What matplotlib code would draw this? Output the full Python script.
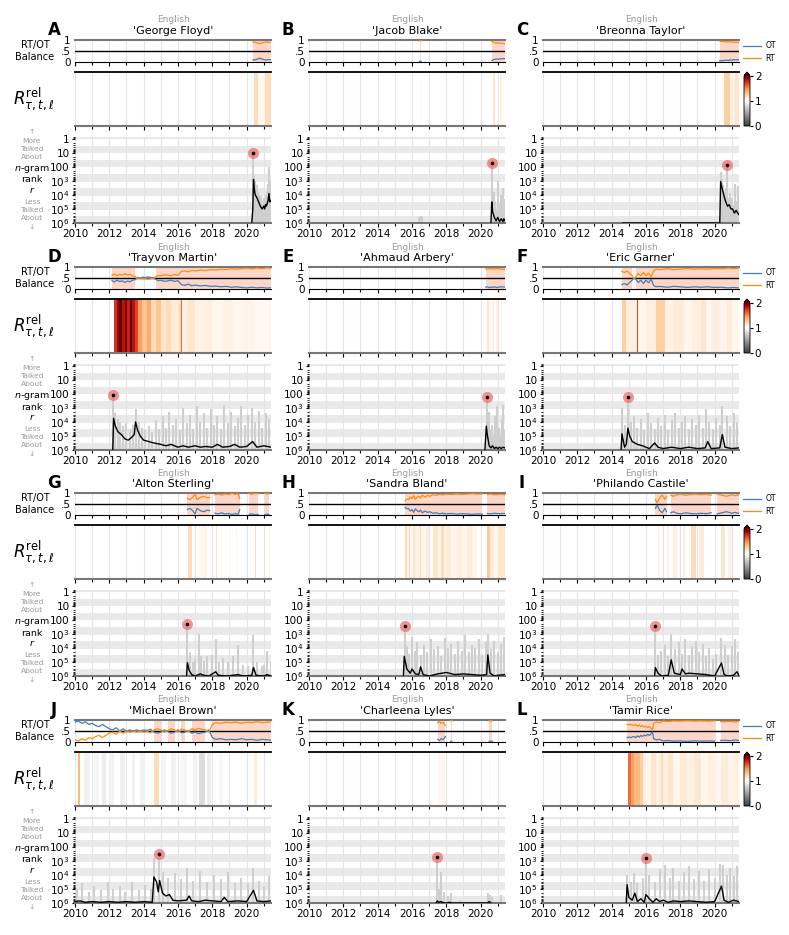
import numpy as np
import matplotlib
matplotlib.use('Agg')
import matplotlib.pyplot as plt
from matplotlib.colors import LinearSegmentedColormap, Normalize
from matplotlib.cm import ScalarMappable
from matplotlib.ticker import LogLocator, NullFormatter, MultipleLocator

nan = np.nan

# ---- data (times in years, ranks as log10) ----
letters = list('ABCDEFGHIJKL')
names = ["'George Floyd'", "'Jacob Blake'", "'Breonna Taylor'",
         "'Trayvon Martin'", "'Ahmaud Arbery'", "'Eric Garner'",
         "'Alton Sterling'", "'Sandra Bland'", "'Philando Castile'",
         "'Michael Brown'", "'Charleena Lyles'", "'Tamir Rice'"]
year_ticks = [2010, 2012, 2014, 2016, 2018, 2020]
rank_ticks = [1, 10, 100, 1e3, 1e4, 1e5, 1e6]
rank_labels = ['1', '10', '100', '$10^3$', '$10^4$', '$10^5$', '$10^6$']

# A George Floyd
floyd_bt = [2020.37, 2020.45, 2020.55, 2020.65, 2020.75, 2020.85, 2020.95, 2021.05, 2021.15, 2021.25, 2021.35, 2021.42]
floyd_rt = [0.90, 0.91, 0.89, 0.86, 0.83, 0.85, 0.88, 0.90, 0.91, 0.89, 0.90, 0.90]
floyd_he = [2020.42, 2020.68, 2021.05, 2021.42]
floyd_hv = [1.2, 1.05, 1.2]
floyd_t = [2020.30, 2020.36, 2020.40, 2020.45, 2020.50, 2020.60, 2020.70, 2020.80, 2020.90, 2021.00, 2021.05, 2021.10, 2021.15, 2021.20, 2021.25, 2021.30, 2021.35, 2021.42]
floyd_r = [6.0, 5.0, 2.9, 3.6, 4.0, 4.2, 4.5, 4.8, 5.0, 4.8, 5.0, 4.7, 4.8, 4.6, 4.4, 3.9, 4.5, 4.4]
floyd_gt = [2020.37, 2020.42, 2020.47, 2020.52, 2020.58, 2020.64, 2020.7, 2020.76, 2020.82, 2020.88, 2020.94, 2021.0, 2021.06, 2021.12, 2021.18, 2021.24, 2021.3, 2021.36, 2021.41]
floyd_gr = [1.0, 2.6, 3.0, 3.5, 3.3, 3.8, 4.0, 4.3, 4.1, 4.6, 4.4, 4.2, 4.5, 4.0, 3.7, 3.2, 2.0, 3.4, 3.0]
floyd_peak = (2020.37, 1.0)

# B Jacob Blake
blake_bt = [2016.45, 2016.55, 2018.0, 2020.65, 2020.75, 2020.85, 2020.95, 2021.05, 2021.15, 2021.25, 2021.35, 2021.42]
blake_rt = [0.97, 0.97, nan, 0.93, 0.90, 0.87, 0.86, 0.88, 0.85, 0.86, 0.84, 0.85]
blake_he = [2016.45, 2016.55, 2020.72, 2020.82, 2021.15, 2021.22, 2021.32, 2021.38]
blake_hv = [1.05, nan, 1.15, nan, 1.08, nan, 1.06]
blake_t = [2020.6, 2020.65, 2020.7, 2020.8, 2020.9, 2021.0, 2021.1, 2021.2, 2021.3, 2021.35, 2021.42]
blake_r = [6.0, 4.5, 5.2, 5.6, 5.85, 5.6, 5.9, 5.7, 5.9, 5.7, 5.85]
blake_gt = [2016.42, 2016.5, 2016.58, 2020.67, 2020.75, 2020.83, 2020.92, 2021.0, 2021.08, 2021.16, 2021.24, 2021.32, 2021.4]
blake_gr = [5.6, 5.5, 5.6, 1.7, 3.8, 4.4, 5.0, 3.0, 4.6, 4.0, 4.8, 3.5, 4.3]
blake_peak = (2020.67, 1.7)

# C Breonna Taylor
taylor_bt = [2020.3, 2020.4, 2020.5, 2020.6, 2020.7, 2020.8, 2020.9, 2021.0, 2021.1, 2021.2, 2021.3, 2021.42]
taylor_rt = [0.95, 0.93, 0.94, 0.92, 0.91, 0.93, 0.9, 0.92, 0.88, 0.91, 0.89, 0.9]
taylor_he = [2020.53, 2020.92, 2021.2, 2021.42]
taylor_hv = [1.25, 1.08, 1.15]
taylor_t = [2014.65, 2020.3, 2020.35, 2020.45, 2020.55, 2020.65, 2020.75, 2020.85, 2020.95, 2021.05, 2021.15, 2021.25, 2021.35, 2021.42]
taylor_r = [6.0, 6.0, 3.05, 3.6, 4.1, 4.5, 4.8, 4.7, 5.0, 5.0, 5.3, 5.1, 5.3, 5.4]
taylor_gt = [2020.36, 2020.42, 2020.5, 2020.58, 2020.66, 2020.73, 2020.8, 2020.88, 2020.96, 2021.04, 2021.12, 2021.2, 2021.28, 2021.36, 2021.41]
taylor_gr = [2.4, 2.9, 3.3, 3.8, 3.5, 1.9, 4.2, 3.9, 4.5, 4.2, 4.7, 3.2, 4.4, 3.4, 4.6]
taylor_peak = (2020.73, 1.9)

# D Trayvon Martin
martin_bt = [2012.15, 2012.3, 2012.45, 2012.6, 2012.75, 2012.9, 2013.05, 2013.2, 2013.35, 2013.5,
             2013.65, 2013.8, 2013.95, 2014.1, 2014.25, 2014.4, 2014.55, 2014.7, 2014.85, 2015.0,
             2015.2, 2015.4, 2015.6, 2015.8, 2016.0, 2016.2, 2016.4, 2016.6, 2016.8, 2017.0,
             2017.3, 2017.6, 2017.9, 2018.2, 2018.5, 2018.8, 2019.1, 2019.4, 2019.7, 2020.0,
             2020.3, 2020.6, 2020.9, 2021.2, 2021.42]
martin_rt = [0.62, 0.68, 0.6, 0.66, 0.63, 0.7, 0.64, 0.67, 0.6, 0.58,
             0.47, 0.5, 0.46, 0.48, 0.45, 0.47, 0.49, 0.56, 0.62, 0.6,
             0.65, 0.63, 0.6, 0.66, 0.62, 0.8, 0.83, 0.78, 0.85, 0.82,
             0.86, 0.84, 0.88, 0.87, 0.9, 0.88, 0.92, 0.9, 0.93, 0.95,
             0.92, 0.95, 0.93, 0.96, 0.94]
martin_he = [2012.27, 2012.45, 2012.56, 2012.75, 2012.9, 2013.05, 2013.2, 2013.34, 2013.5, 2013.69,
             2013.9, 2014.2, 2014.45, 2014.7, 2015.0, 2015.3, 2015.6, 2016.06, 2016.15, 2016.25,
             2016.6, 2017.0, 2017.5, 2018.0, 2018.6, 2019.2, 2019.8, 2020.4, 2021.0, 2021.42]
martin_hv = [1.75, 1.9, 2.0, 1.85, 1.95, 1.8, 2.0, 1.85, 1.7,
             1.45, 1.3, 1.4, 1.2, 1.3, 1.15, 1.2, 1.12, 1.18, 1.6,
             1.1, 1.15, 1.08, 1.1, 1.06, 1.08, 1.05, 1.07, 1.04, 1.05]
martin_t = [2012.2, 2012.25, 2012.35, 2012.5, 2012.7, 2012.9, 2013.1, 2013.3, 2013.45, 2013.53,
            2013.65, 2013.8, 2014.0, 2014.3, 2014.6, 2015.0, 2015.3, 2015.6, 2016.0, 2016.3,
            2016.6, 2017.0, 2017.3, 2017.6, 2018.0, 2018.3, 2018.6, 2019.0, 2019.3, 2019.6,
            2020.0, 2020.35, 2020.6, 2021.0, 2021.42]
martin_r = [6.0, 3.75, 4.3, 4.7, 4.9, 5.2, 5.3, 5.1, 4.9, 4.0,
            4.6, 5.0, 5.3, 5.4, 5.5, 5.6, 5.7, 5.6, 5.8, 5.7,
            5.8, 5.7, 5.8, 5.75, 5.8, 5.6, 5.8, 5.75, 5.6, 5.8,
            5.75, 5.4, 5.8, 5.7, 5.8]
martin_gt = [2012.23, 2012.35, 2012.5, 2012.65, 2012.8, 2013.0, 2013.2, 2013.4, 2013.53, 2013.7,
             2013.9, 2014.1, 2014.3, 2014.5, 2014.7, 2014.9, 2015.1, 2015.3, 2015.5, 2015.7,
             2015.9, 2016.1, 2016.3, 2016.5, 2016.7, 2016.9, 2017.1, 2017.3, 2017.5, 2017.7,
             2017.9, 2018.1, 2018.3, 2018.5, 2018.7, 2018.9, 2019.1, 2019.3, 2019.5, 2019.7,
             2019.9, 2020.1, 2020.3, 2020.5, 2020.7, 2020.9, 2021.1, 2021.3]
martin_gr = [2.1, 3.4, 3.8, 4.0, 4.3, 4.1, 4.5, 4.2, 3.1, 4.0,
             4.4, 4.6, 4.3, 4.7, 3.9, 4.5, 3.6, 4.4, 3.3, 4.2,
             3.8, 4.6, 3.0, 4.1, 3.5, 4.5, 2.9, 4.0, 3.4, 4.4,
             3.1, 4.2, 3.6, 4.5, 2.8, 4.1, 3.3, 4.3, 3.7, 2.9,
             4.2, 3.5, 3.0, 4.0, 3.2, 4.4, 3.4, 3.8]
martin_peak = (2012.23, 2.1)

# E Ahmaud Arbery
arbery_bt = [2020.3, 2020.4, 2020.5, 2020.6, 2020.7, 2020.8, 2020.9, 2021.0, 2021.1, 2021.2, 2021.3, 2021.42]
arbery_rt = [0.92, 0.9, 0.94, 0.91, 0.93, 0.9, 0.92, 0.94, 0.9, 0.91, 0.9, 0.92]
arbery_he = [2020.35, 2020.48, 2020.7, 2020.78, 2020.92, 2021.0, 2021.18, 2021.24]
arbery_hv = [1.15, 1.04, 1.12, nan, 1.08, nan, 1.1]
arbery_t = [2020.25, 2020.33, 2020.4, 2020.5, 2020.6, 2020.7, 2020.8, 2020.9, 2021.0, 2021.1, 2021.2, 2021.3, 2021.42]
arbery_r = [6.0, 4.3, 5.0, 5.7, 5.85, 5.7, 5.9, 5.8, 5.9, 5.8, 5.9, 5.8, 5.85]
arbery_gt = [2020.35, 2020.42, 2020.5, 2020.58, 2020.66, 2020.74, 2020.82, 2020.9, 2020.98, 2021.06, 2021.14, 2021.22, 2021.3, 2021.38]
arbery_gr = [2.2, 3.4, 3.3, 4.6, 4.2, 5.0, 3.6, 4.8, 2.9, 4.4, 4.9, 3.8, 2.8, 4.5]
arbery_peak = (2020.35, 2.2)

# F Eric Garner
garner_bt = [2014.6, 2014.75, 2014.9, 2015.05, 2015.2, 2015.3, 2015.4, 2015.55, 2015.7, 2015.85,
             2016.0, 2016.15, 2016.3, 2016.45, 2016.6, 2016.8, 2017.0, 2017.3, 2017.6, 2018.0,
             2018.4, 2018.8, 2019.2, 2019.6, 2020.0, 2020.4, 2020.8, 2021.1, 2021.42]
garner_rt = [0.8, 0.75, 0.82, 0.7, 0.6, 0.48, 0.55, 0.7, 0.6, 0.75,
             0.6, 0.72, 0.55, 0.85, 0.9, 0.88, 0.9, 0.92, 0.88, 0.9,
             0.93, 0.9, 0.92, 0.9, 0.93, 0.92, 0.95, 0.93, 0.95]
garner_he = [2014.6, 2014.85, 2015.5, 2015.56, 2015.62, 2016.0, 2016.6, 2017.1, 2017.6, 2018.2,
             2018.7, 2019.2, 2019.5, 2019.8, 2020.3, 2020.7, 2021.0, 2021.42]
garner_hv = [1.25, 1.1, 1.7, 1.1, 1.06, 1.1, 1.25, 1.08, 1.12, 1.06, 1.1, 1.15, 1.05, 1.1, 1.07, 1.12, 1.06]
garner_t = [2014.55, 2014.6, 2014.75, 2014.85, 2014.95, 2015.05, 2015.2, 2015.5, 2015.8, 2016.2,
            2016.5, 2016.7, 2017.0, 2017.5, 2018.0, 2018.5, 2019.0, 2019.45, 2019.6, 2019.8,
            2020.3, 2020.45, 2020.6, 2021.0, 2021.42]
garner_r = [6.0, 4.85, 5.8, 5.6, 4.45, 5.0, 5.4, 5.6, 5.7, 5.9,
            5.5, 5.8, 5.9, 5.8, 5.9, 5.8, 5.9, 5.85, 5.4, 5.9,
            5.85, 4.9, 5.8, 5.9, 5.85]
garner_gt = [2014.6, 2014.8, 2014.94, 2015.1, 2015.3, 2015.5, 2015.7, 2015.9, 2016.1, 2016.3,
             2016.5, 2016.7, 2016.9, 2017.1, 2017.3, 2017.5, 2017.7, 2017.9, 2018.1, 2018.3,
             2018.5, 2018.7, 2018.9, 2019.1, 2019.3, 2019.5, 2019.7, 2019.9, 2020.1, 2020.3,
             2020.45, 2020.7, 2020.9, 2021.1, 2021.3]
garner_gr = [3.0, 4.2, 2.2, 4.0, 3.6, 4.4, 3.8, 4.6, 3.4, 4.1,
             4.5, 3.7, 4.3, 3.5, 4.6, 3.9, 3.4, 4.4, 4.0, 3.6,
             4.5, 3.8, 4.2, 3.5, 4.4, 3.1, 4.0, 4.5, 3.7, 4.2,
             2.9, 3.6, 4.3, 3.4, 4.0]
garner_peak = (2014.94, 2.2)

# G Alton Sterling
sterling_bt = [2016.55, 2016.7, 2016.85, 2017.0, 2017.1, 2017.3, 2017.5, 2017.7, 2017.85, 2017.95,
               2018.15, 2018.35, 2018.55, 2018.75, 2018.95, 2019.15, 2019.35, 2019.5, 2019.6, 2020.0,
               2020.15, 2020.25, 2020.37, 2020.5, 2020.67, 2020.8, 2021.05, 2021.2, 2021.3, 2021.42]
sterling_rt = [0.75, 0.7, 0.8, 0.95, 0.7, 0.8, 0.85, 0.78, 0.8, nan,
               0.92, 0.95, 0.9, 0.96, 0.93, 0.98, 0.94, 0.97, 0.75, nan,
               0.97, 0.95, 0.96, 0.98, 0.97, nan, 0.98, 0.96, 0.97, nan]
sterling_he = [2016.6, 2016.8, 2017.2, 2017.5, 2017.7, 2018.22, 2018.3, 2018.5, 2018.56, 2019.0,
               2019.06, 2019.4, 2019.46, 2020.47, 2020.53, 2021.28, 2021.34]
sterling_hv = [1.2, nan, 1.05, 1.08, nan, 1.15, nan, 1.05, nan, 1.05, nan, 1.05, nan, 1.2, nan, 1.1]
sterling_t = [2016.5, 2016.55, 2016.65, 2016.8, 2017.0, 2017.3, 2017.5, 2017.8, 2018.2, 2018.35,
              2018.8, 2019.2, 2019.5, 2019.8, 2020.3, 2020.4, 2020.55, 2021.0, 2021.2, 2021.42]
sterling_r = [6.0, 5.05, 5.6, 5.9, 6.0, 5.85, 5.95, 6.0, 5.7, 5.95,
              6.0, 5.95, 5.9, 6.0, 5.95, 5.4, 5.95, 6.0, 5.9, 6.0]
sterling_gt = [2016.52, 2016.7, 2016.85, 2017.0, 2017.2, 2017.35, 2017.5, 2017.7, 2018.0, 2018.2,
               2018.4, 2018.6, 2018.9, 2019.2, 2019.5, 2019.8, 2020.1, 2020.4, 2020.6, 2020.9,
               2021.0, 2021.2, 2021.4]
sterling_gr = [2.3, 4.3, 5.0, 4.8, 3.0, 4.6, 4.9, 4.6, 4.5, 3.4,
               5.0, 4.7, 5.0, 4.6, 3.8, 5.2, 5.3, 3.1, 5.0, 5.3,
               5.2, 4.2, 5.0]
sterling_peak = (2016.5, 2.33)

# H Sandra Bland
bland_bt = [2015.6, 2015.7, 2015.8, 2015.9, 2016.0, 2016.1, 2016.2, 2016.3, 2016.4, 2016.5,
            2016.6, 2016.75, 2016.9, 2017.05, 2017.2, 2017.4, 2017.6, 2017.8, 2018.0, 2018.3,
            2018.6, 2018.9, 2019.2, 2019.5, 2019.8, 2020.1, 2020.3, 2020.4, 2020.55, 2020.8,
            2021.1, 2021.42]
bland_rt = [0.65, 0.72, 0.7, 0.82, 0.75, 0.88, 0.72, 0.8, 0.85, 0.78,
            0.9, 0.82, 0.88, 0.85, 0.92, 0.9, 0.94, 0.92, 0.95, 0.93,
            0.96, 0.94, 0.95, 0.97, 0.95, 0.96, nan, 0.93, 0.95, 0.92,
            0.94, 0.93]
bland_he = [2015.6, 2015.7, 2015.8, 2015.9, 2016.05, 2016.2, 2016.45, 2016.55, 2016.8, 2017.0,
            2017.2, 2017.5, 2017.7, 2017.85, 2018.0, 2018.3, 2018.6, 2018.9, 2019.2, 2019.5,
            2019.8, 2020.4, 2020.55, 2020.75, 2021.0, 2021.42]
bland_hv = [1.2, 1.08, 1.18, 1.05, 1.15, 1.08, 1.22, 1.05, 1.12, nan,
            1.15, 1.06, 1.18, 1.08, 1.12, 1.05, 1.1, 1.06, 1.12, 1.05,
            nan, 1.28, 1.12, 1.06, 1.15]
bland_t = [2015.5, 2015.55, 2015.7, 2015.9, 2016.0, 2016.2, 2016.4, 2016.5, 2016.65, 2017.0,
           2017.5, 2018.0, 2018.5, 2019.0, 2019.5, 2020.0, 2020.35, 2020.42, 2020.55, 2020.8,
           2021.0, 2021.42]
bland_r = [6.0, 4.6, 5.5, 5.8, 5.5, 5.85, 5.9, 5.35, 5.9, 6.0,
           5.85, 5.75, 5.9, 5.85, 5.9, 5.95, 5.9, 4.5, 5.8, 6.0,
           5.95, 5.9]
bland_gt = [2015.57, 2015.7, 2015.85, 2016.0, 2016.15, 2016.3, 2016.5, 2016.7, 2016.9, 2017.1,
            2017.3, 2017.5, 2017.7, 2017.9, 2018.1, 2018.3, 2018.5, 2018.7, 2018.9, 2019.1,
            2019.3, 2019.5, 2019.7, 2019.9, 2020.1, 2020.3, 2020.42, 2020.6, 2020.8, 2021.0,
            2021.2, 2021.35]
bland_gr = [2.46, 3.9, 4.4, 3.2, 4.2, 3.6, 4.5, 3.8, 4.3, 3.4,
            4.1, 3.9, 4.6, 3.3, 4.0, 3.7, 4.4, 3.5, 4.2, 3.1,
            4.3, 3.8, 4.0, 3.4, 4.5, 3.6, 3.0, 4.1, 3.5, 4.3,
            3.7, 3.2]
bland_peak = (2015.57, 2.46)

# I Philando Castile
castile_bt = [2016.55, 2016.65, 2016.8, 2016.95, 2017.1, 2017.2, 2017.3, 2017.45, 2017.6, 2017.8,
              2018.0, 2018.3, 2018.6, 2018.9, 2019.2, 2019.5, 2019.8, 2019.95, 2020.15, 2020.4,
              2020.7, 2021.0, 2021.2, 2021.42]
castile_rt = [0.7, 0.55, 0.8, 0.9, 0.7, 0.85, nan, 0.9, 0.85, 0.92,
              0.95, 0.9, 0.93, 0.95, 0.92, 0.94, 0.9, nan, 0.95, 0.9,
              0.85, 0.92, 0.88, 0.93]
castile_he = [2016.7, 2016.8, 2017.25, 2017.35, 2017.6, 2017.8, 2018.15, 2018.25, 2018.6, 2018.9,
              2019.1, 2019.4, 2020.4, 2020.6, 2020.8, 2021.0]
castile_hv = [1.05, nan, 1.1, nan, 1.1, nan, 1.1, nan, 1.2, nan, 1.12, nan, 1.15, nan, 1.08]
castile_t = [2016.5, 2016.55, 2016.7, 2016.9, 2017.3, 2017.47, 2017.65, 2018.0, 2018.1, 2018.3,
             2018.5, 2019.0, 2019.5, 2020.0, 2020.4, 2020.55, 2020.8, 2021.1, 2021.3, 2021.42]
castile_r = [6.0, 5.4, 5.8, 6.0, 5.95, 4.85, 5.8, 5.9, 5.5, 5.85,
             5.8, 5.85, 5.9, 6.0, 5.07, 5.9, 6.0, 5.95, 5.7, 5.95]
castile_gt = [2016.5, 2016.7, 2016.9, 2017.1, 2017.3, 2017.47, 2017.7, 2017.9, 2018.1, 2018.3,
              2018.5, 2018.7, 2018.9, 2019.1, 2019.3, 2019.5, 2019.7, 2019.9, 2020.1, 2020.4,
              2020.6, 2020.8, 2021.0, 2021.2, 2021.35]
castile_gr = [2.44, 4.5, 4.2, 3.8, 4.6, 3.0, 4.1, 3.6, 4.4, 3.4,
              4.5, 3.9, 3.5, 4.3, 3.7, 4.6, 4.0, 4.8, 4.4, 3.3,
              3.8, 4.5, 3.9, 3.4, 4.3]
castile_peak = (2016.5, 2.44)

# J Michael Brown
brown_bt = [2010.0, 2010.2, 2010.4, 2010.6, 2010.8, 2011.0, 2011.2, 2011.4, 2011.6, 2011.8,
            2012.0, 2012.2, 2012.4, 2012.6, 2012.8, 2013.0, 2013.2, 2013.4, 2013.6, 2013.8,
            2014.0, 2014.2, 2014.4, 2014.6, 2014.8, 2015.0, 2015.2, 2015.4, 2015.6, 2015.8,
            2016.0, 2016.2, 2016.4, 2016.6, 2016.8, 2017.0, 2017.2, 2017.4, 2017.6, 2017.8,
            2018.0, 2018.2, 2018.5, 2018.8, 2019.1, 2019.4, 2019.7, 2020.0, 2020.3, 2020.6,
            2020.9, 2021.2, 2021.42]
brown_rt = [0.1, 0.05, 0.15, 0.08, 0.2, 0.15, 0.25, 0.3, 0.2, 0.3,
            0.4, 0.45, 0.35, 0.5, 0.4, 0.5, 0.45, 0.5, 0.45, 0.5,
            0.45, 0.48, 0.42, 0.55, 0.6, 0.55, 0.45, 0.52, 0.6, 0.55,
            0.45, 0.58, 0.55, 0.48, 0.6, 0.55, 0.62, 0.58, 0.55, 0.45,
            0.8, 0.88, 0.85, 0.9, 0.88, 0.9, 0.85, 0.9, 0.88, 0.92,
            0.88, 0.9, 0.92]
brown_he = [2010.2, 2010.27, 2010.5, 2010.9, 2011.1, 2011.4, 2011.6, 2011.8, 2012.0, 2012.3,
            2012.6, 2012.9, 2013.3, 2013.5, 2013.8, 2014.1, 2014.6, 2014.9, 2015.0, 2015.3,
            2015.6, 2015.9, 2016.2, 2016.5, 2016.9, 2017.1, 2017.25, 2017.6, 2017.7, 2017.9,
            2018.4, 2018.6, 2020.45, 2020.6]
brown_hv = [1.35, nan, 0.93, nan, 0.95, nan, 0.9, nan, 0.93, nan,
            0.92, nan, 0.94, nan, 0.93, nan, 1.2, nan, 0.95, nan,
            0.93, nan, 0.95, nan, 0.94, nan, 0.82, nan, 0.9, nan,
            0.96, nan, 1.12]
brown_t = [2010.0, 2010.3, 2010.6, 2011.0, 2011.5, 2012.0, 2012.5, 2013.0, 2013.5, 2014.0,
           2014.5, 2014.6, 2014.75, 2014.85, 2014.93, 2015.1, 2015.3, 2015.5, 2015.7, 2016.0,
           2016.5, 2016.65, 2016.8, 2017.2, 2017.6, 2018.0, 2018.5, 2018.7, 2018.9, 2019.5,
           2020.0, 2020.4, 2020.6, 2021.0, 2021.42]
brown_r = [5.9, 5.85, 5.95, 5.9, 5.95, 5.9, 5.95, 5.9, 5.95, 5.9,
           5.95, 4.15, 4.5, 5.2, 4.4, 5.3, 5.5, 5.4, 5.8, 5.85,
           5.8, 5.5, 5.85, 5.9, 5.8, 5.85, 5.9, 5.6, 5.9, 5.85,
           5.9, 5.1, 5.85, 5.9, 5.85]
brown_gt = [2010.1, 2010.4, 2010.8, 2011.1, 2011.5, 2011.9, 2012.2, 2012.6, 2012.9, 2013.3,
            2013.7, 2014.1, 2014.4, 2014.62, 2014.9, 2015.1, 2015.4, 2015.8, 2016.2, 2016.5,
            2016.9, 2017.3, 2017.7, 2018.1, 2018.5, 2018.9, 2019.3, 2019.7, 2020.1, 2020.4,
            2020.7, 2021.0, 2021.3]
brown_gr = [5.0, 4.6, 5.2, 4.8, 5.1, 4.5, 5.0, 4.8, 5.2, 4.5,
            5.1, 4.7, 5.0, 2.8, 2.5, 3.8, 4.2, 3.9, 4.3, 3.5,
            4.4, 3.7, 4.5, 4.0, 4.3, 3.8, 4.6, 4.2, 4.6, 3.5,
            4.4, 4.8, 4.1]
brown_peak = (2014.9, 2.5)

# K Charleena Lyles
lyles_bt = [2017.5, 2017.6, 2017.7, 2017.8, 2017.95, 2018.1, 2018.25, 2018.32, 2018.5, 2020.4, 2020.5, 2020.6, 2020.68]
lyles_rt = [0.88, 0.93, 0.85, 0.9, 0.75, nan, 0.97, 0.97, nan, nan, 0.97, 0.96, 0.97]
lyles_he = [2017.5, 2017.9, 2020.48, 2020.55, 2021.2, 2021.25]
lyles_hv = [1.05, nan, 1.06, nan, 1.03]
lyles_t = [2017.4, 2017.48, 2017.55, 2017.7, 2017.85, 2018.0, 2018.2, 2018.3, 2018.4, 2020.4, 2020.5, 2020.6]
lyles_r = [6.0, 5.85, 5.95, 5.9, 6.0, 6.0, 5.95, 6.0, 6.0, 6.0, 5.9, 6.0]
lyles_gt = [2017.47, 2017.58, 2017.7, 2017.85, 2018.1, 2018.3, 2018.8, 2020.45, 2020.55, 2020.65, 2021.2]
lyles_gr = [2.7, 5.0, 3.8, 5.2, 5.5, 5.3, 5.8, 5.3, 5.4, 5.6, 5.4]
lyles_peak = (2017.47, 2.7)

# L Tamir Rice
rice_bt = [2014.9, 2015.0, 2015.1, 2015.2, 2015.3, 2015.4, 2015.5, 2015.6, 2015.7, 2015.8,
           2015.9, 2016.0, 2016.1, 2016.2, 2016.3, 2016.38, 2016.45, 2016.6, 2016.8, 2017.0,
           2017.3, 2017.6, 2018.0, 2018.4, 2018.8, 2019.2, 2019.6, 2020.0, 2020.2, 2020.35,
           2020.6, 2020.9, 2021.2, 2021.42]
rice_rt = [0.8, 0.78, 0.8, 0.77, 0.75, 0.8, 0.72, 0.78, 0.7, 0.75,
           0.68, 0.72, 0.65, 0.7, 0.62, 0.55, 0.85, 0.9, 0.88, 0.95,
           0.93, 0.96, 0.95, 0.97, 0.95, 0.96, 0.95, 0.96, nan, 0.93,
           0.92, 0.94, 0.91, 0.93]
rice_he = [2014.95, 2015.1, 2015.3, 2015.65, 2015.8, 2016.0, 2016.3, 2016.6, 2016.9, 2017.0,
           2017.3, 2017.6, 2018.0, 2018.4, 2018.8, 2019.2, 2019.6, 2020.0, 2020.4, 2020.8,
           2021.1, 2021.42]
rice_hv = [1.6, 1.45, 1.35, 1.25, 1.1, 1.05, 1.15, 1.08, 1.2, 1.1,
           1.15, 1.06, 1.12, 1.08, 1.14, 1.06, 1.1, 1.05, 1.12, 1.07, 1.1]
rice_t = [2014.85, 2014.9, 2015.0, 2015.2, 2015.35, 2015.5, 2015.7, 2015.9, 2016.0, 2016.2,
          2016.4, 2016.6, 2016.8, 2017.0, 2017.3, 2017.6, 2018.0, 2018.5, 2019.0, 2019.5,
          2020.0, 2020.4, 2020.55, 2020.8, 2021.1, 2021.42]
rice_r = [6.0, 4.7, 5.6, 5.8, 5.3, 5.9, 5.7, 5.95, 5.4, 5.7,
          5.95, 5.7, 5.9, 5.8, 5.95, 5.85, 5.9, 5.85, 5.9, 5.95,
          5.9, 4.8, 5.8, 5.95, 5.8, 5.9]
rice_gt = [2014.9, 2015.1, 2015.3, 2015.5, 2015.8, 2016.0, 2016.2, 2016.5, 2016.8, 2017.1,
           2017.4, 2017.6, 2017.9, 2018.2, 2018.5, 2018.8, 2019.1, 2019.4, 2019.7, 2020.0,
           2020.3, 2020.5, 2020.7, 2020.9, 2021.1, 2021.3]
rice_gr = [4.0, 4.5, 3.9, 4.6, 4.2, 2.8, 4.0, 4.5, 3.6, 3.3,
           4.2, 3.5, 4.4, 3.8, 3.4, 4.3, 3.7, 4.4, 3.6, 4.2,
           3.2, 3.3, 4.0, 3.5, 4.1, 3.4]
rice_peak = (2016.0, 2.8)

panels = [
    (floyd_bt, floyd_rt, floyd_he, floyd_hv, floyd_t, floyd_r, floyd_gt, floyd_gr, floyd_peak),
    (blake_bt, blake_rt, blake_he, blake_hv, blake_t, blake_r, blake_gt, blake_gr, blake_peak),
    (taylor_bt, taylor_rt, taylor_he, taylor_hv, taylor_t, taylor_r, taylor_gt, taylor_gr, taylor_peak),
    (martin_bt, martin_rt, martin_he, martin_hv, martin_t, martin_r, martin_gt, martin_gr, martin_peak),
    (arbery_bt, arbery_rt, arbery_he, arbery_hv, arbery_t, arbery_r, arbery_gt, arbery_gr, arbery_peak),
    (garner_bt, garner_rt, garner_he, garner_hv, garner_t, garner_r, garner_gt, garner_gr, garner_peak),
    (sterling_bt, sterling_rt, sterling_he, sterling_hv, sterling_t, sterling_r, sterling_gt, sterling_gr, sterling_peak),
    (bland_bt, bland_rt, bland_he, bland_hv, bland_t, bland_r, bland_gt, bland_gr, bland_peak),
    (castile_bt, castile_rt, castile_he, castile_hv, castile_t, castile_r, castile_gt, castile_gr, castile_peak),
    (brown_bt, brown_rt, brown_he, brown_hv, brown_t, brown_r, brown_gt, brown_gr, brown_peak),
    (lyles_bt, lyles_rt, lyles_he, lyles_hv, lyles_t, lyles_r, lyles_gt, lyles_gr, lyles_peak),
    (rice_bt, rice_rt, rice_he, rice_hv, rice_t, rice_r, rice_gt, rice_gr, rice_peak),
]

# ---- styling ----
OT_C = '#3d7fc1'
RT_C = '#ff8c0a'
SHADE_C = '#fdd6c8'
GRID_C = '#e4e4e4'
heat_cmap = LinearSegmentedColormap.from_list('rrel', [
    (0.0, '#3a3a3a'), (0.5, '#ffffff'), (0.56, '#feecd9'), (0.65, '#fdc590'),
    (0.75, '#f8924f'), (0.85, '#e0452a'), (0.93, '#b01010'), (1.0, '#6b0000')])
heat_norm = Normalize(0, 2)

W, H = 789, 935
fig = plt.figure(figsize=(W / 100, H / 100), dpi=100)


def px_axes(x0, y0, w, h):
    return fig.add_axes([x0 / W, 1 - (y0 + h) / H, w / W, h / H])


def time_axis(ax, labels):
    ax.set_xlim(2010, 2021.42)
    ax.set_xticks(year_ticks)
    ax.xaxis.set_minor_locator(MultipleLocator(1))
    ax.grid(axis='x', which='both', color=GRID_C, lw=0.8, zorder=0)
    ax.set_axisbelow(True)
    ax.tick_params(axis='x', which='major', length=3, width=0.8, labelsize=7.5, pad=1.5)
    ax.tick_params(axis='x', which='minor', length=2.5, width=0.8)
    if not labels:
        ax.tick_params(axis='x', which='both', labelbottom=False)
    ax.spines['left'].set_visible(False)
    ax.spines['right'].set_visible(False)


col_x = [75, 309, 543]
row_y = [40, 267, 493, 720]
AW = 196

for i, (bt, rt, he, hv, t, r, gt, gr, peak) in enumerate(panels):
    row, col = divmod(i, 3)
    x0, y0 = col_x[col], row_y[row]
    bt = np.array(bt)
    rt = np.array(rt)

    # balance
    ax1 = px_axes(x0, y0, AW, 22)
    time_axis(ax1, False)
    ax1.fill_between(bt, 0, 1, where=np.nan_to_num(rt) > 0.5, color=SHADE_C, lw=0, zorder=1)
    ax1.plot(bt, 1 - rt, color=OT_C, lw=0.9, zorder=3, label='OT')
    ax1.plot(bt, rt, color=RT_C, lw=0.9, zorder=3, label='RT')
    ax1.axhline(0.5, color='k', lw=1, zorder=2)
    ax1.set_ylim(0, 1)
    ax1.set_yticks([0, 0.5, 1])
    ax1.set_yticklabels(['0', '.5', '1'])
    ax1.tick_params(axis='y', length=0, labelsize=7.5, pad=3)
    ax1.spines['top'].set_color('#777777')
    ax1.spines['top'].set_linewidth(1.5)
    if col == 2:
        ax1.legend(loc='center left', bbox_to_anchor=(1.0, 0.45), frameon=False,
                   fontsize=5.5, handlelength=2.4, borderaxespad=0.1, labelspacing=0.5,
                   handletextpad=0.6)

    # relative rate heatmap
    ax2 = px_axes(x0, y0 + 32, AW, 54)
    time_axis(ax2, False)
    vals = np.ma.masked_invalid(np.array(hv, dtype=float))[None, :]
    ax2.pcolormesh(np.array(he), [0, 1], vals, cmap=heat_cmap, norm=heat_norm, zorder=1)
    ax2.set_ylim(0, 1)
    ax2.set_yticks([])
    ax2.spines['top'].set_linewidth(1.3)
    ax2.spines['bottom'].set_color('#777777')
    ax2.spines['bottom'].set_linewidth(1.5)
    if col == 2:
        cax = px_axes(x0 + AW + 5, y0 + 32, 6, 54)
        cb = fig.colorbar(ScalarMappable(heat_norm, heat_cmap), cax=cax, extend='max',
                          ticks=[0, 1, 2], extendfrac=0.08)
        cb.outline.set_linewidth(0.6)
        cb.ax.tick_params(labelsize=7.5, length=2, pad=1.5)

    # rank time series
    ax3 = px_axes(x0, y0 + 97, AW, 86)
    time_axis(ax3, True)
    ax3.set_yscale('log')
    for k in range(7):
        ax3.axhspan(10 ** (k - 0.5), 10 ** (k + 0.05), color='#e9e9e9', lw=0, zorder=0)
    ax3.vlines(gt, 1e6, 10 ** np.array(gr), color='#cfcfcf', lw=1.5, zorder=2)
    ax3.plot(t, 10 ** np.array(r), color='k', lw=1.0, zorder=3)
    ax3.plot(peak[0], 10 ** peak[1], 'o', ms=8, color='#ef7070', alpha=0.75, mec='none', zorder=4)
    ax3.plot(peak[0], 10 ** peak[1], 'o', ms=1.6, color='k', zorder=5)
    ax3.set_ylim(10 ** 6, 10 ** -0.12)
    ax3.set_yticks(rank_ticks)
    ax3.set_yticklabels(rank_labels)
    ax3.yaxis.set_minor_locator(LogLocator(base=10, subs=np.arange(2, 10), numticks=20))
    ax3.yaxis.set_minor_formatter(NullFormatter())
    ax3.tick_params(axis='y', which='major', length=2.5, width=0.8, labelsize=7.5, pad=1.5)
    ax3.tick_params(axis='y', which='minor', length=1.8, width=0.6)
    ax3.spines['top'].set_visible(False)
    ax3.spines['bottom'].set_color('#777777')
    ax3.spines['bottom'].set_linewidth(1.5)

    # titles
    xc = (x0 + AW / 2) / W
    fig.text(xc, 1 - (y0 - 20) / H, 'English', ha='center', va='center', fontsize=6.5, color='#999999')
    fig.text(xc, 1 - (y0 - 9) / H, names[i], ha='center', va='center', fontsize=8)
    fig.text((x0 - 21) / W, 1 - (y0 - 10) / H, letters[i], ha='center', va='center',
             fontsize=12, fontweight='bold')

    # left labels
    if col == 0:
        fig.text(35 / W, 1 - (y0 + 11) / H, 'RT/OT\nBalance', ha='center', va='center',
                 fontsize=7, linespacing=1.15)
        fig.text(34 / W, 1 - (y0 + 59) / H, r'$R^{\mathrm{rel}}_{\tau,t,\ell}$', ha='center',
                 va='center', fontsize=12)
        rank_top = y0 + 97
        side = [('\u2191', -5, 'g'), ('More', 4, 'g'), ('Talked', 12, 'g'), ('About', 20, 'g'),
                ('$n$-gram', 32, 'k'), ('rank', 43, 'k'), ('$r$', 53, 'k'),
                ('Less', 65, 'g'), ('Talked', 73, 'g'), ('About', 81, 'g'), ('\u2193', 90, 'g')]
        for txt, dy, c in side:
            if c == 'g':
                fig.text(32 / W, 1 - (rank_top + dy) / H, txt, ha='center', va='center',
                         fontsize=5.4, color='#999999')
            else:
                fig.text(32 / W, 1 - (rank_top + dy) / H, txt, ha='center', va='center',
                         fontsize=6.8)

fig.savefig('out.png', dpi=100)
